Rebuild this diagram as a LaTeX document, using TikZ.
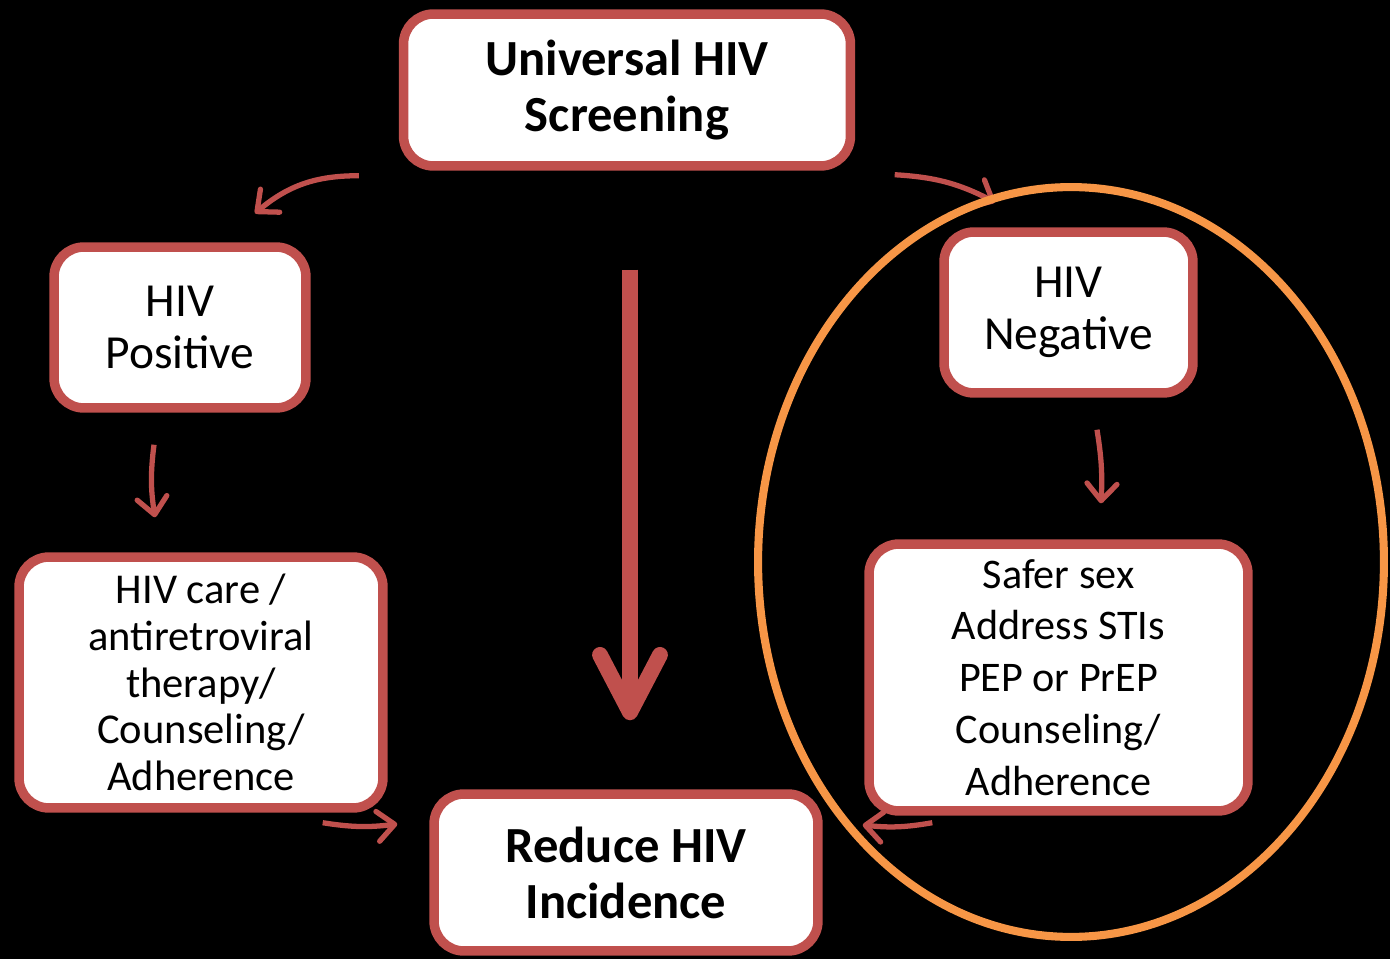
\documentclass[tikz,border=0pt]{standalone}
\usepackage{fontspec}
\setmainfont{Carlito}
\usetikzlibrary{arrows.meta, calc}
\definecolor{boxred}{HTML}{C0504D}
\definecolor{ringorange}{HTML}{F79646}
\tikzset{
    box/.style={draw=boxred, line width=5.4pt, fill=white, rounded corners=0.6cm, align=center, inner sep=0pt},
    bigtext/.style={font=\fontsize{28.8}{31.8}\selectfont\bfseries},
    midtext/.style={font=\fontsize{27}{29.5}\selectfont},
    safetext/.style={font=\fontsize{24}{29.5}\selectfont},
    smalltext/.style={font=\fontsize{24.2}{26.6}\selectfont},
    link/.style={draw=boxred, line width=3pt, -{Straight Barb[length=0.34cm, width=0.6cm, round]}},
}

\begin{document}
\begin{tikzpicture}[x=0.02cm, y=0.02cm]
    \fill [black] (0,0) rectangle (1390,-959);
    \node (top) [box, bigtext, minimum width=8.94cm, minimum height=3.04cm] at (627,-90) {Universal HIV\\Screening};
    \node (pos) [box, midtext, minimum width=5.04cm, minimum height=3.22cm] at (180,-327.5) {HIV\\Positive};
    \node (care) [box, smalltext, minimum width=7.28cm, minimum height=5.02cm] at (201,-682.5) {HIV care /\\antiretroviral\\therapy/\\Counseling/\\Adherence};
    \node (neg) [box, midtext, minimum width=4.98cm, minimum height=3.22cm] at (1068.5,-312.5) {HIV\\Negative};
    \node (safer) [box, safetext, minimum width=7.58cm, minimum height=5.34cm] at (1058.5,-677.5) {Safer sex\\Address STIs\\PEP or PrEP\\Counseling/\\Adherence};
    \node (reduce) [box, bigtext, minimum width=7.68cm, minimum height=3.14cm] at (626,-872.5) {Reduce HIV\\Incidence};
    \draw [link] ($(top.south west)+(-40,-5)$) to[bend right=20] ($(pos.north)+(75,29)$);
    \draw [link] ($(top.south east)+(39.5,-4)$) to[bend left=12] ($(neg.north)+(-73.5,25)$);
    \draw [link] ($(pos.south)+(-26,-32)$) to[bend right=8] ($(care.north)+(-46,35)$);
    \draw [link] ($(neg.south)+(28.5,-32)$) to[bend left=6] ($(safer.north)+(42.5,36)$);
    \draw [link] ($(care.south east)+(-65,-10)$) to[bend right=8] ($(reduce.west)+(-32,48.5)$);
    \draw [link] ($(safer.south west)+(68,-7)$) to[bend left=8] ($(reduce.east)+(40,47.5)$);
    \draw [draw=boxred, line width=9pt, -{Straight Barb[length=1.15cm, width=1.2cm, round]}] ($(top.south)+(3,-99)$) -- ($(reduce.north)+(4,69)$);
    \draw [ringorange, line width=4.6pt] (1071,-562) ellipse [x radius=6.26cm, y radius=7.5cm];
\end{tikzpicture}
\end{document}
